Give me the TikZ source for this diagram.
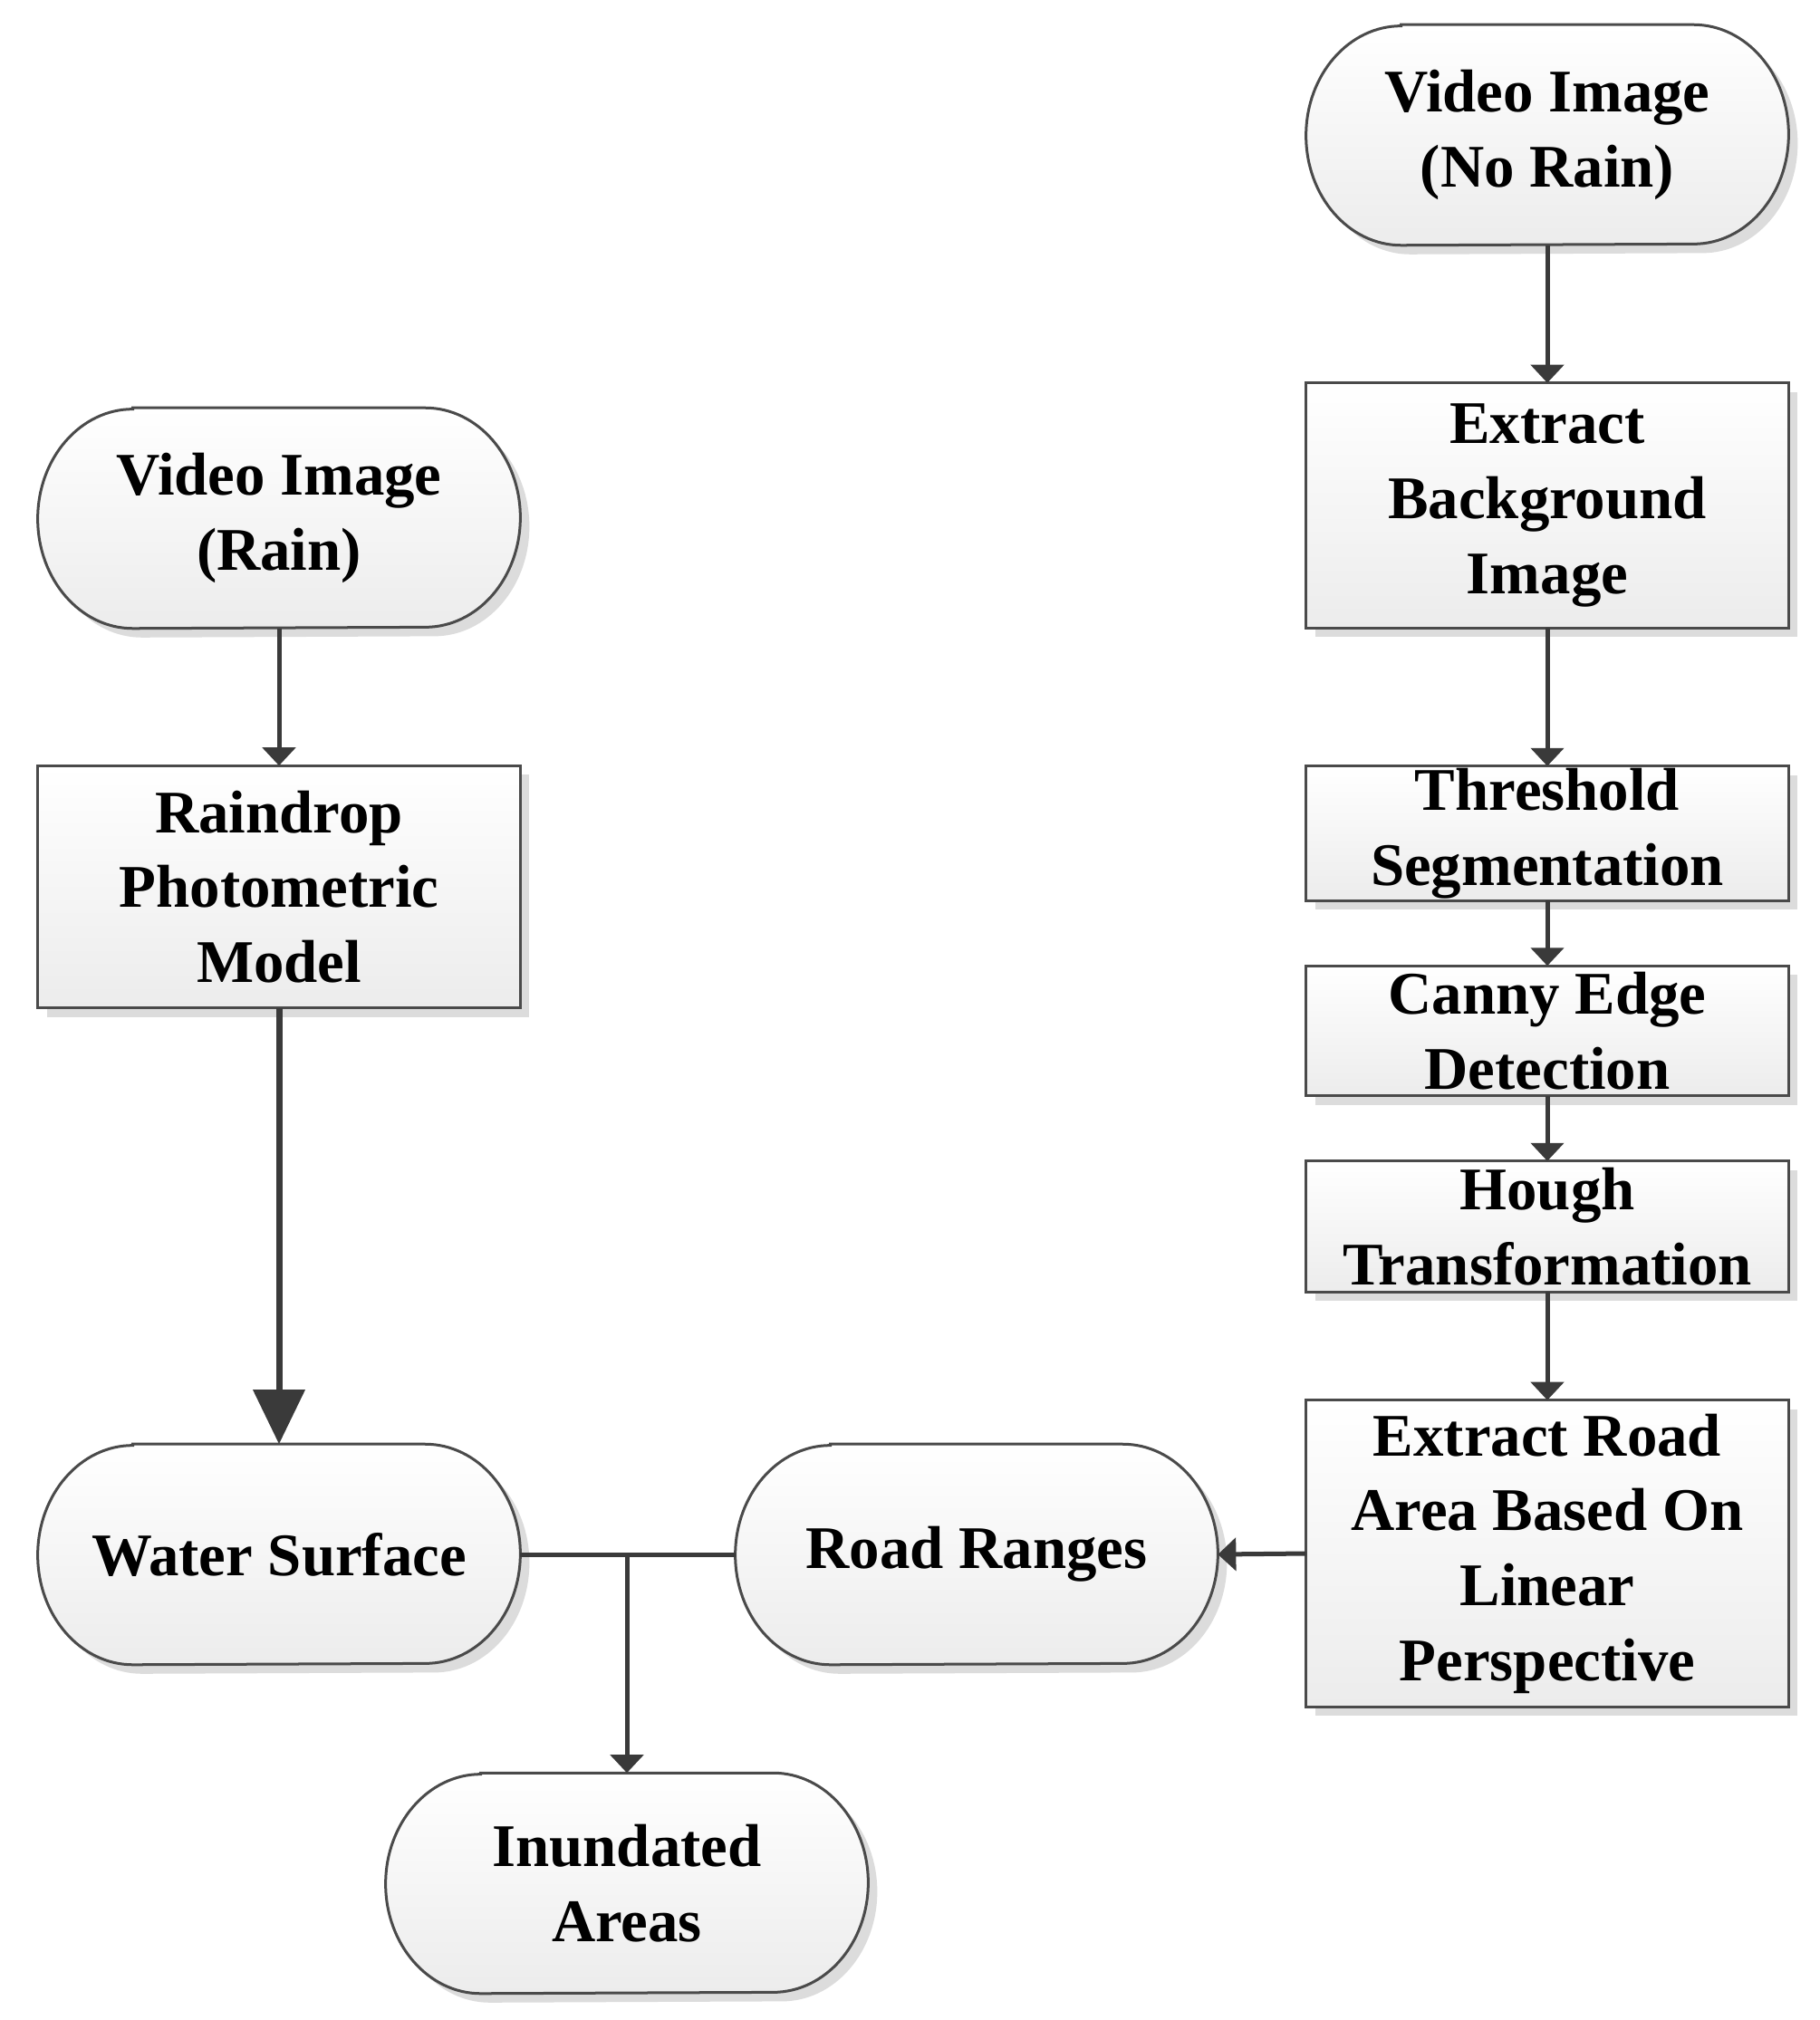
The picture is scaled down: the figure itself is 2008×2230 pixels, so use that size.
\documentclass[tikz,border=0pt]{standalone}
\usepackage{fontspec}
\setmainfont{Liberation Serif}
\usetikzlibrary{arrows.meta,backgrounds}
\definecolor{outlinec}{HTML}{4A4A4A}
\definecolor{linec}{HTML}{3A3A3A}
\definecolor{shadowc}{HTML}{DCDCDC}
\definecolor{fillbot}{HTML}{ECECEC}
\tikzset{
  txt/.style={font=\bfseries\fontsize{19}{23.5}\selectfont, align=center, inner sep=0pt, text=black},
  boxnode/.style={txt, rectangle, minimum width=5.31cm},
  ovalnode/.style={txt, rectangle, minimum width=5.31cm, minimum height=2.42cm},
  shapefill/.style={top color=white, bottom color=fillbot, draw=outlinec, line width=0.03cm},
  conn/.style={draw=linec, line width=0.05cm, -{Triangle[width=0.36cm,length=0.2cm]}},
  bigconn/.style={draw=linec, line width=0.07cm, -{Triangle[width=0.56cm,length=0.6cm]}},
  plainconn/.style={draw=linec, line width=0.05cm},
}
\newcommand\ovalshape[1]{%
  \fill[shadowc] ([xshift=1.15cm,yshift=-0.1cm]#1.north west) -- ([xshift=-0.95cm,yshift=-0.1cm]#1.north east)
    arc[start angle=90,end angle=-90,x radius=1.05cm,y radius=1.21cm]
    -- ([xshift=1.15cm,yshift=-0.1cm]#1.south west)
    arc[start angle=270,end angle=90,x radius=1.05cm,y radius=1.21cm] -- cycle;
  \path[shapefill] ([xshift=1.05cm]#1.north west) -- ([xshift=-1.05cm]#1.north east)
    arc[start angle=90,end angle=-90,x radius=1.05cm,y radius=1.21cm]
    -- ([xshift=1.05cm]#1.south west)
    arc[start angle=270,end angle=90,x radius=1.05cm,y radius=1.21cm] -- cycle;
}
\newcommand\rectshape[1]{%
  \fill[shadowc] ([shift={(0.1cm,-0.1cm)}]#1.north west) rectangle ([shift={(0.1cm,-0.1cm)}]#1.south east);
  \path[shapefill] (#1.north west) rectangle (#1.south east);
}
\begin{document}
\begin{tikzpicture}[x=0.01cm,y=-0.01cm]
\useasboundingbox (0,0) rectangle (2008,2230);

% right column
\node[ovalnode] (nr) at (1708,149) {Video Image\\(No Rain)};
\node[boxnode, minimum height=2.69cm] (eb) at (1708,558) {Extract\\Background\\Image};
\node[boxnode, minimum height=1.47cm] (ts) at (1708,920) {Threshold\\Segmentation};
\node[boxnode, minimum height=1.42cm] (ce) at (1708,1138) {Canny Edge\\Detection};
\node[boxnode, minimum height=1.43cm] (ht) at (1708,1354) {Hough\\Transformation};
\node[boxnode, minimum height=3.37cm] (er) at (1708,1715) {Extract Road\\Area Based On\\Linear\\Perspective};

% left column
\node[ovalnode] (vr) at (308,572) {Video Image\\(Rain)};
\node[boxnode, minimum height=2.66cm] (rp) at (308,979) {Raindrop\\Photometric\\Model};
\node[ovalnode] (ws) at (308,1716) {Water Surface};
\node[ovalnode] (rr) at (1078,1716) {Road Ranges};
\node[ovalnode] (ia) at (692,2079) {Inundated\\Areas};

\begin{pgfonlayer}{background}
  \fill[white] (0,0) rectangle (2008,2230);
  \ovalshape{nr}
  \ovalshape{vr}
  \ovalshape{ws}
  \ovalshape{rr}
  \ovalshape{ia}
  \rectshape{eb}
  \rectshape{ts}
  \rectshape{ce}
  \rectshape{ht}
  \rectshape{er}
  \rectshape{rp}
\end{pgfonlayer}

% connectors
\draw[conn] (nr.south) -- (eb.north);
\draw[conn] (eb.south) -- (ts.north);
\draw[conn] (ts.south) -- (ce.north);
\draw[conn] (ce.south) -- (ht.north);
\draw[conn] (ht.south) -- (er.north);
\draw[conn] (er.west) -- (rr.east);
\draw[conn] (vr.south) -- (rp.north);
\draw[bigconn] (rp.south) -- (ws.north);
\coordinate (j) at (ia.north |- ws.east);
\draw[plainconn] (ws.east) -- (rr.west);
\draw[conn] (j) -- (ia.north);
\end{tikzpicture}
\end{document}
